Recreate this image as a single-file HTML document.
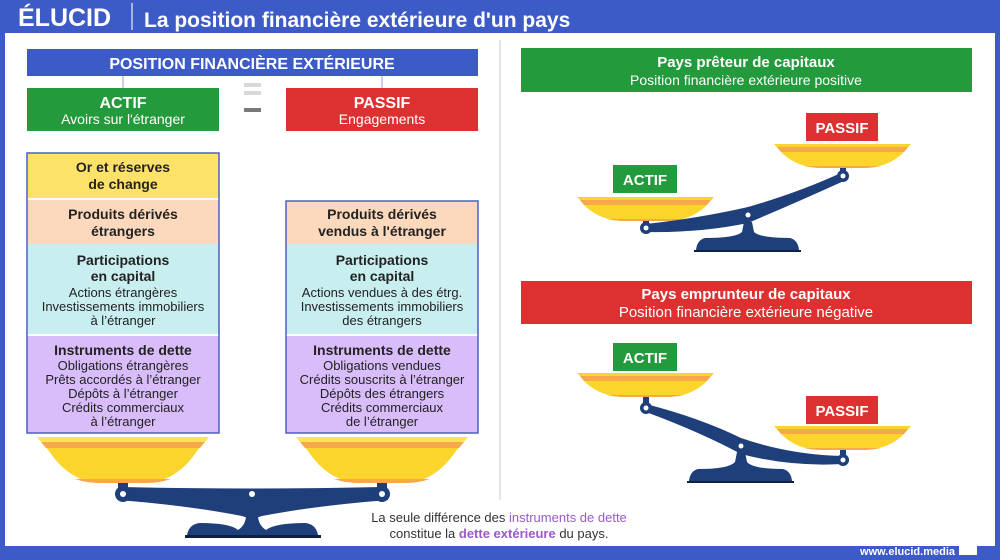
<!DOCTYPE html>
<html><head><meta charset="utf-8"><style>
html,body{margin:0;padding:0;background:#3d5bc6;}
svg{display:block;font-family:"Liberation Sans",sans-serif;}
</style></head><body>
<svg width="1000" height="560" viewBox="0 0 1000 560" xmlns="http://www.w3.org/2000/svg">
<defs>
<g id="bowlL">
<path d="M0,0 H172 L160,14 Q140,44 110,46 H62 Q32,44 12,14 Z" fill="#fcd52c"/>
<path d="M0,0 H172 L168,5 H4 Z" fill="#fde25a"/>
<path d="M4,5 H168 L163,11 H9 Z" fill="#f7a84a"/>
<path d="M38,42 Q50,46 62,46 H110 Q122,46 134,42 Z" fill="#f7a84a"/>
</g>
<g id="bowlS">
<path d="M0,0 H137 L128,10 Q112,24 90,24 H47 Q25,24 9,10 Z" fill="#fcd52c"/>
<path d="M3,3 H134 L130,8 H7 Z" fill="#f7a84a"/>
<path d="M30,22 Q40,24 47,24 H90 Q97,24 107,22 Z" fill="#f7a84a"/>
</g>
</defs>
<rect width="1000" height="560" fill="#3d5bc6"/>
<rect x="5" y="33" width="990" height="513" fill="#ffffff"/>
<line x1="132" y1="3" x2="132" y2="30" stroke="#c9d1f0" stroke-width="1.5"/>
<text x="18" y="26" font-size="25" font-weight="bold" fill="#fff">ÉLUCID</text>
<text x="144" y="27" font-size="21" font-weight="bold" fill="#fff">La position financière extérieure d'un pays</text>
<line x1="500" y1="40" x2="500" y2="500" stroke="#e4e6ee" stroke-width="2"/>

<rect x="27" y="49" width="451" height="27" fill="#3d5bc6"/>
<text x="252" y="69" font-size="16" font-weight="bold" fill="#fff" text-anchor="middle">POSITION FINANCIÈRE EXTÉRIEURE</text>
<line x1="123" y1="76" x2="123" y2="88" stroke="#b5c0e6" stroke-width="1.5"/>
<line x1="382" y1="76" x2="382" y2="88" stroke="#b5c0e6" stroke-width="1.5"/>
<rect x="27" y="88" width="192" height="43" fill="#239a3b"/>
<text x="123" y="108" font-size="16" font-weight="bold" fill="#fff" text-anchor="middle">ACTIF</text>
<text x="123" y="124" font-size="14" fill="#fff" text-anchor="middle">Avoirs sur l'étranger</text>
<rect x="286" y="88" width="192" height="43" fill="#dd3131"/>
<text x="382" y="108" font-size="16" font-weight="bold" fill="#fff" text-anchor="middle">PASSIF</text>
<text x="382" y="124" font-size="14" fill="#fff" text-anchor="middle">Engagements</text>
<rect x="244" y="83" width="17" height="4" fill="#d8d8d8"/>
<rect x="244" y="91" width="17" height="4" fill="#d8d8d8"/>
<rect x="244" y="108" width="17" height="4" fill="#7a7a7a"/>

<g font-size="13" fill="#222" text-anchor="middle">
<rect x="27" y="153" width="192" height="45" fill="#fde26a"/>
<rect x="27" y="200" width="192" height="44" fill="#fcd9bd"/>
<rect x="27" y="244" width="192" height="90" fill="#c9eef0"/>
<rect x="27" y="336" width="192" height="97" fill="#d8bdfa"/>
<rect x="27" y="153" width="192" height="280" fill="none" stroke="#4d5fc0" stroke-width="1.5"/>
<text x="123" y="172" font-size="14" font-weight="bold">Or et réserves</text>
<text x="123" y="189" font-size="14" font-weight="bold">de change</text>
<text x="123" y="219" font-size="14" font-weight="bold">Produits dérivés</text>
<text x="123" y="236" font-size="14" font-weight="bold">étrangers</text>
<text x="123" y="265" font-size="14" font-weight="bold">Participations</text>
<text x="123" y="281" font-size="14" font-weight="bold">en capital</text>
<text x="123" y="297">Actions étrangères</text>
<text x="123" y="311">Investissements immobiliers</text>
<text x="123" y="325">à l’étranger</text>
<text x="123" y="355" font-size="14" font-weight="bold">Instruments de dette</text>
<text x="123" y="370">Obligations étrangères</text>
<text x="123" y="384">Prêts accordés à l’étranger</text>
<text x="123" y="398">Dépôts à l’étranger</text>
<text x="123" y="412">Crédits commerciaux</text>
<text x="123" y="426">à l’étranger</text>

<rect x="286" y="201" width="192" height="43" fill="#fcd9bd"/>
<rect x="286" y="244" width="192" height="90" fill="#c9eef0"/>
<rect x="286" y="336" width="192" height="97" fill="#d8bdfa"/>
<rect x="286" y="201" width="192" height="232" fill="none" stroke="#4d5fc0" stroke-width="1.5"/>
<text x="382" y="219" font-size="14" font-weight="bold">Produits dérivés</text>
<text x="382" y="236" font-size="14" font-weight="bold">vendus à l'étranger</text>
<text x="382" y="265" font-size="14" font-weight="bold">Participations</text>
<text x="382" y="281" font-size="14" font-weight="bold">en capital</text>
<text x="382" y="297">Actions vendues à des étrg.</text>
<text x="382" y="311">Investissements immobiliers</text>
<text x="382" y="325">des étrangers</text>
<text x="382" y="355" font-size="14" font-weight="bold">Instruments de dette</text>
<text x="382" y="370">Obligations vendues</text>
<text x="382" y="384">Crédits souscrits à l’étranger</text>
<text x="382" y="398">Dépôts des étrangers</text>
<text x="382" y="412">Crédits commerciaux</text>
<text x="382" y="426">de l’étranger</text>
</g>

<use href="#bowlL" x="37" y="437"/>
<use href="#bowlL" x="296" y="437"/>
<rect x="118" y="483" width="10" height="10" fill="#1e3f7a"/>
<rect x="377" y="483" width="10" height="10" fill="#1e3f7a"/>
<path d="M122,487 Q250,490 383,487 L388,500 Q320,505 262,516 Q252,520 242,516 Q185,505 118,500 Z" fill="#1e3f7a"/>
<circle cx="123" cy="494" r="8" fill="#1e3f7a"/><circle cx="123" cy="494" r="3" fill="#fff"/>
<circle cx="382" cy="494" r="8" fill="#1e3f7a"/><circle cx="382" cy="494" r="3" fill="#fff"/>
<circle cx="252" cy="494" r="3" fill="#fff"/>
<path d="M246,515 H258 Q258,525 266,530 Q275,523 305,523 Q316,524 318,535 H187 Q189,524 200,523 Q230,523 238,530 Q246,525 246,515 Z" fill="#1e3f7a"/>
<rect x="185" y="535" width="136" height="3" fill="#0e2140"/>

<text x="499" y="522" font-size="13" fill="#333" text-anchor="middle">La seule différence des <tspan fill="#9b59c9">instruments de dette</tspan></text>
<text x="499" y="538" font-size="13" fill="#333" text-anchor="middle">constitue la <tspan fill="#9b59c9" font-weight="bold">dette extérieure</tspan> du pays.</text>

<rect x="521" y="48" width="451" height="44" fill="#239a3b"/>
<text x="746" y="67" font-size="15" font-weight="bold" fill="#fff" text-anchor="middle">Pays prêteur de capitaux</text>
<text x="746" y="85" font-size="14" fill="#fff" text-anchor="middle">Position financière extérieure positive</text>
<rect x="806" y="113" width="72" height="28" fill="#dd3131"/>
<text x="842" y="133" font-size="15" font-weight="bold" fill="#fff" text-anchor="middle">PASSIF</text>
<rect x="613" y="165" width="64" height="28" fill="#239a3b"/>
<text x="645" y="185" font-size="15" font-weight="bold" fill="#fff" text-anchor="middle">ACTIF</text>
<rect x="643" y="218" width="6" height="8" fill="#1e3f7a"/>
<rect x="840" y="164" width="6" height="8" fill="#1e3f7a"/>
<use href="#bowlS" x="577" y="197"/>
<use href="#bowlS" x="774" y="144"/>
<path d="M646,224 Q700,218 748,207 Q800,192 843,172 L846,180 Q800,201 748,223 Q700,233 646,232 Z" fill="#1e3f7a"/>
<circle cx="646" cy="228" r="6" fill="#1e3f7a"/><circle cx="646" cy="228" r="2.5" fill="#fff"/>
<circle cx="843" cy="176" r="6" fill="#1e3f7a"/><circle cx="843" cy="176" r="2.5" fill="#fff"/>
<circle cx="748" cy="215" r="2.5" fill="#fff"/>
<path d="M744,222 H752 L754,232 Q760,238 790,238 Q798,240 799,250 H696 Q697,240 705,238 Q736,238 742,232 Z" fill="#1e3f7a"/>
<rect x="694" y="250" width="107" height="2" fill="#0e2140"/>

<rect x="521" y="281" width="451" height="43" fill="#dd3131"/>
<text x="746" y="299" font-size="15" font-weight="bold" fill="#fff" text-anchor="middle">Pays emprunteur de capitaux</text>
<text x="746" y="317" font-size="15" fill="#fff" text-anchor="middle">Position financière extérieure négative</text>
<rect x="613" y="343" width="64" height="28" fill="#239a3b"/>
<text x="645" y="363" font-size="15" font-weight="bold" fill="#fff" text-anchor="middle">ACTIF</text>
<rect x="806" y="396" width="72" height="28" fill="#dd3131"/>
<text x="842" y="416" font-size="15" font-weight="bold" fill="#fff" text-anchor="middle">PASSIF</text>
<rect x="643" y="396" width="6" height="10" fill="#1e3f7a"/>
<rect x="840" y="448" width="6" height="10" fill="#1e3f7a"/>
<use href="#bowlS" x="577" y="373"/>
<use href="#bowlS" x="774" y="426"/>
<path d="M646,404 Q700,418 741,438 Q790,455 843,456 L843,464 Q790,467 741,454 Q700,432 646,412 Z" fill="#1e3f7a"/>
<circle cx="646" cy="408" r="6" fill="#1e3f7a"/><circle cx="646" cy="408" r="2.5" fill="#fff"/>
<circle cx="843" cy="460" r="6" fill="#1e3f7a"/><circle cx="843" cy="460" r="2.5" fill="#fff"/>
<circle cx="741" cy="446" r="2.5" fill="#fff"/>
<path d="M737,452 H745 L747,462 Q753,469 783,469 Q791,471 792,481 H689 Q690,471 698,469 Q729,469 735,462 Z" fill="#1e3f7a"/>
<rect x="687" y="481" width="107" height="2" fill="#0e2140"/>

<text x="955" y="555" font-size="11" font-weight="bold" fill="#fff" text-anchor="end">www.elucid.media</text>
<path d="M959,546 L977,540 V555 H959 Z" fill="#fff"/>
</svg>
</body></html>
